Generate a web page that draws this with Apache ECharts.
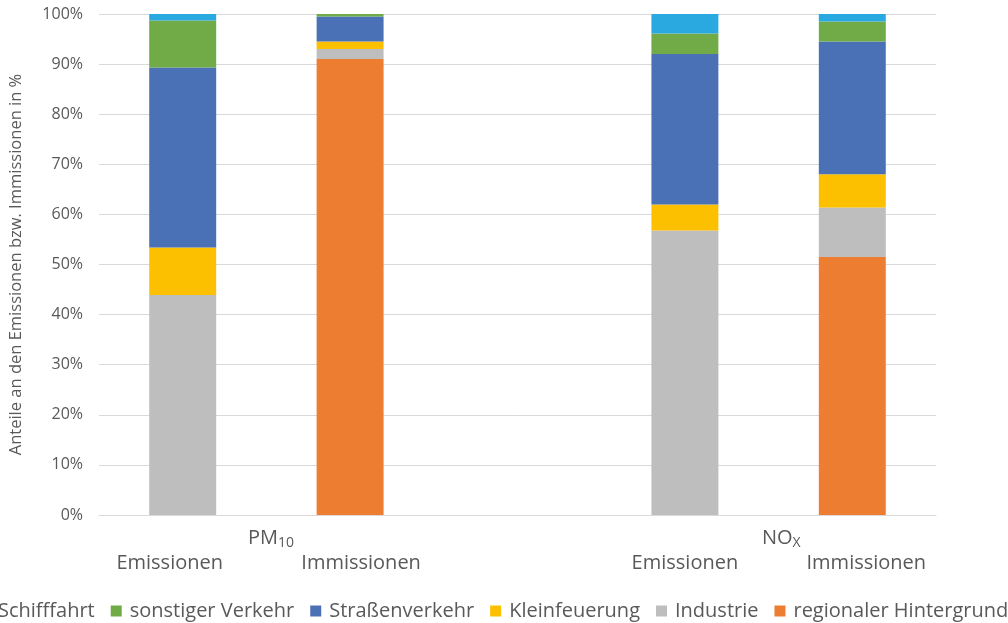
<!DOCTYPE html>
<html><head><meta charset="utf-8">
<script src="https://cdn.jsdelivr.net/npm/echarts@6/dist/echarts.min.js"></script>
<style>html,body{margin:0;padding:0;background:#fff}#c{width:1008px;height:623px}</style>
</head><body><div id="c"></div>
<script>
const categories = ['Emissionen', 'Immissionen', '', 'Emissionen', 'Immissionen'];
const groups = ['PM{s|10}', 'NO{s|X}'];
const yTicks = [0, 10, 20, 30, 40, 50, 60, 70, 80, 90, 100];
const regionalerHintergrund = [0, 91.0, null, 0, 51.5];
const industrie = [43.9, 2.0, null, 56.8, 9.9];
const kleinfeuerung = [9.5, 1.5, null, 5.2, 6.6];
const strassenverkehr = [35.9, 5.0, null, 30.0, 26.5];
const sonstigerVerkehr = [9.4, 0.5, null, 4.1, 4.0];
const schifffahrt = [1.3, 0, null, 3.9, 1.5];

// small horizontal label offsets seen in the reference (text only)
const labelPads = [[0, 26, 0, 0], [0, 0, 0, 22], [0, 0, 0, 0], [0, 0, 0, 0], [0, 0, 0, 28]];

const seriesDefs = [
  ['regionaler Hintergrund', regionalerHintergrund, '#ED7D31'],
  ['Industrie', industrie, '#BDBEBD'],
  ['Kleinfeuerung', kleinfeuerung, '#FDC000'],
  ['Straßenverkehr', strassenverkehr, '#4A70B6'],
  ['sonstiger Verkehr', sonstigerVerkehr, '#70AB47'],
  ['Schifffahrt', schifffahrt, '#29A9E0']
];
const font = '"Open Sans", "Noto Sans", sans-serif';
const rich = { s: { fontSize: 14, padding: [11, 0, 0, 0], fill: '#595959', color: '#595959', fontFamily: font } };
const chart = echarts.init(document.getElementById('c'));
chart.setOption({
  animation: false,
  textStyle: { fontFamily: font },
  grid: { left: 96, right: 72, top: 14, bottom: 108, containLabel: false },
  legend: {
    data: seriesDefs.map(d => d[0]).reverse(),
    left: -21, bottom: 2, width: 1300, padding: 0, orient: 'horizontal',
    icon: 'rect', itemWidth: 11, itemHeight: 11, itemGap: 16,
    textStyle: { color: '#595959', fontSize: 20, fontFamily: font, padding: [0, 0, 0, 3] }
  },
  xAxis: {
    type: 'category',
    data: categories.map((c, i) => ({ value: c, textStyle: { padding: labelPads[i] } })),
    axisLine: { lineStyle: { color: '#D9D9D9' } },
    axisTick: { show: false },
    axisLabel: { color: '#595959', fontSize: 20, margin: 38, interval: 0 }
  },
  yAxis: {
    type: 'value', min: 0, max: 100, interval: 10,
    name: 'Anteile an den Emissionen bzw. Immissionen in %',
    nameLocation: 'middle', nameGap: 74, nameRotate: 90,
    nameTextStyle: { color: '#595959', fontSize: 16.5 },
    axisLabel: { color: '#595959', fontSize: 16, margin: 16, formatter: v => yTicks.includes(v) ? v + '%' : '' },
    splitLine: { lineStyle: { color: '#D9D9D9' } },
    axisLine: { show: false }, axisTick: { show: false }
  },
  series: seriesDefs.map(d => ({
    name: d[0], type: 'bar', stack: 'total', data: d[1], barWidth: '40%',
    itemStyle: { color: d[2] }
  })),
  graphic: [
    { type: 'text', left: 248, top: 528, style: { text: groups[0], fill: '#595959', font: '20px ' + font, rich: rich } },
    { type: 'text', left: 762, top: 528, style: { text: groups[1], fill: '#595959', font: '20px ' + font, rich: rich } }
  ]
});
</script></body></html>
